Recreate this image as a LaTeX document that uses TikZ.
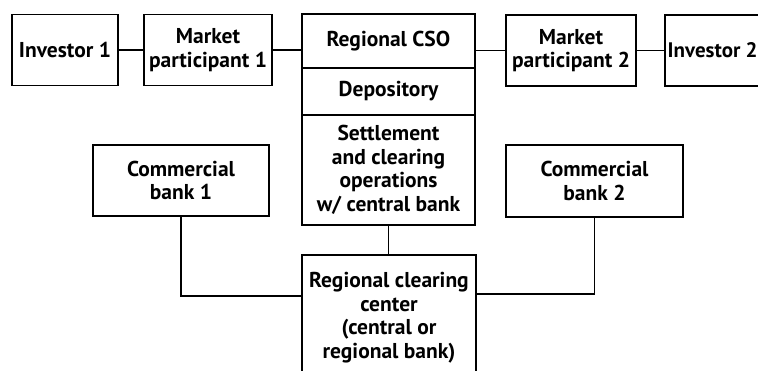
\documentclass[tikz,border=0pt]{standalone}
\usepackage{fontspec}
\setmainfont{PT Sans}
\begin{document}
\begin{tikzpicture}[x=1pt,y=-1pt,
  every node/.style={font=\bfseries\fontsize{21.5}{23.5}\selectfont, align=center, inner sep=0pt},
  boxa/.style={draw, line width=1.8pt, minimum width=#1, minimum height=71},
  cell/.style={minimum width=173},
  conn/.style={line width=1.8pt}]
\useasboundingbox (0,0) rectangle (758,370);
\begin{scope}
\clip (0,0) rectangle (758,370);
\node[boxa=106] (inv1) at (65,50) {Investor 1};
\node[boxa=128] (mp1) at (208,50) {Market\\participant 1};
\node[boxa=130] (mp2) at (571,50.5) {Market\\participant 2};
% Investor 2 box runs past the right edge, as in the reference
\draw[line width=1.8pt] (665,15) rectangle (771,86);
\coordinate (inv2w) at (665,50.5);
\node[anchor=west, font=\bfseries\fontsize{21}{23.5}\selectfont] (inv2) at (667.5,50.5) {Investor 2};
\node[cell, minimum height=54] (cso) at (388.5,41) {Regional CSO};
\node[cell, minimum height=47] (dep) at (388.5,91.5) {Depository};
\node[cell, minimum height=110] (set) at (388.5,170) {Settlement\\and clearing\\operations\\w/ central bank};
\draw[line width=1.8pt] (cso.north west) rectangle (set.south east);
\draw[conn] (dep.north west) -- (dep.north east);
\draw[conn] (dep.south west) -- (dep.south east);
\node[boxa=176, minimum height=71] (cb1) at (181,180.5) {Commercial\\bank 1};
\node[boxa=177, minimum height=72] (cb2) at (594.5,181) {Commercial\\bank 2};
\node[boxa=174, minimum height=125] (rcc) at (389,317.5) {Regional clearing\\center\\(central or\\regional bank)};
\draw[conn] (inv1.east) -- (mp1.west);
\draw[conn] (mp1.east) -- (mp1.east -| cso.west);
\draw[conn] (mp2.west -| cso.east) -- (mp2.west);
\draw[conn] (mp2.east) -- (inv2w);
\draw[conn] (set.south) -- (set.south |- rcc.north);
\draw[conn] (cb1.south) |- (rcc.west |- 0,296);
\draw[conn] (cb2.south) |- (rcc.east |- 0,294);
\end{scope}
\end{tikzpicture}
\end{document}
